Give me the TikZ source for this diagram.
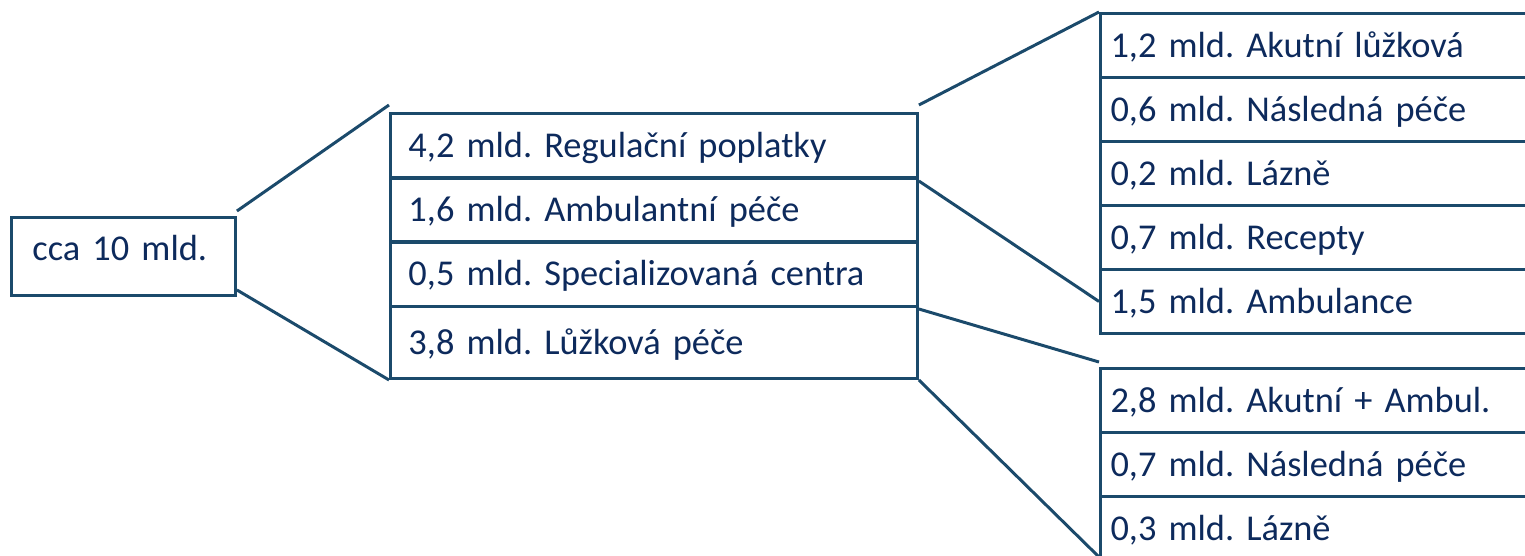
\documentclass[tikz,border=0pt]{standalone}
\usepackage{fontspec}
\setmainfont{Carlito}
\usepackage{tikz}
\usetikzlibrary{positioning}
\definecolor{navy}{HTML}{0D2A5C}
\definecolor{edge}{HTML}{1B4A6B}
\begin{document}
\begin{tikzpicture}[x=.02cm,y=-.02cm]%
                    \useasboundingbox (0,0) rectangle (1525,555);
                    \begin{scope}
                        \tikzstyle{every node}=[draw=edge,line width=1.7pt,text=navy,anchor=north west,align=left,font=\fontsize{20.7}{25}\selectfont\frenchspacing,text height=13.5pt,text depth=0pt];%%
                        \tikzstyle{midrow}=[inner xsep=.36cm,text width=9.82cm,minimum height=1.3cm];%%
                        \tikzstyle{subrow}=[inner xsep=.2cm,text width=8.52cm,minimum height=1.28cm];%%
                        \node[inner xsep=.42cm,text width=3.64cm,minimum height=1.56cm,text depth=9.1pt] (total) at (10,216)  {cca 10 mld.}; %%
                        \node[midrow] (r1) at (389,112)  {4,2 mld. Regulační poplatky}; %%
                        \node[midrow] (r2) at (389,176)  {1,6 mld. Ambulantní péče}; %%
                        \node[midrow] (r3) at (389,240)  {0,5 mld. Specializovaná centra}; %%
                        \node[midrow,minimum height=1.44cm] (r4) at (389,305)  {3,8 mld. Lůžková péče}; %%
                        \node[subrow] (a1) at (1099,12)  {1,2 mld. Akutní lůžková}; %%
                        \node[subrow] (a2) at (1099,76)  {0,6 mld. Následná péče}; %%
                        \node[subrow] (a3) at (1099,140)  {0,2 mld. Lázně}; %%
                        \node[subrow] (a4) at (1099,204)  {0,7 mld. Recepty}; %%
                        \node[subrow] (a5) at (1099,268)  {1,5 mld. Ambulance}; %%
                        \node[subrow] (b1) at (1099,367)  {2,8 mld. Akutní + Ambul.}; %%
                        \node[subrow] (b2) at (1099,431)  {0,7 mld. Následná péče}; %%
                        \node[subrow] (b3) at (1099,495)  {0,3 mld. Lázně}; %%
                    \end{scope}
                        \draw[edge,line width=1.7pt] ([yshift=.1cm]total.north east)--([yshift=.14cm]r1.north west); %%
                        \draw[edge,line width=1.7pt] ([yshift=.14cm]total.south east)--(r4.south west); %%
                        \draw[edge,line width=1.7pt] ([yshift=.14cm]r1.north east)--(a1.north west); %%
                        \draw[edge,line width=1.7pt] ([yshift=-.1cm]r2.north east)--(a5.west); %%
                        \draw[edge,line width=1.7pt] ([yshift=-.08cm]r4.north east)--([yshift=.1cm]b1.north west); %%
                        \draw[edge,line width=1.7pt] (r4.south east)--([yshift=.1cm]b3.south west); %%
                    \end{tikzpicture}
\end{document}
